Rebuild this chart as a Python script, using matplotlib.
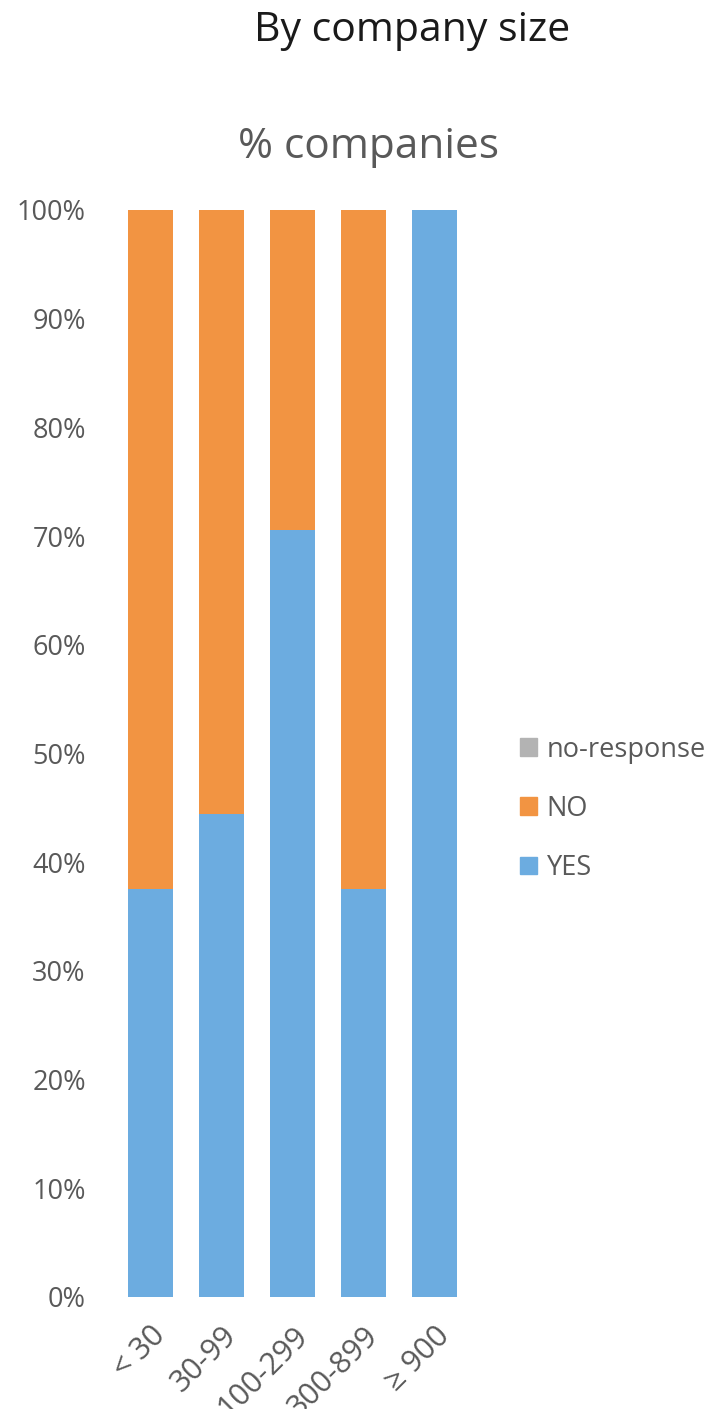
import matplotlib
matplotlib.use("Agg")
import matplotlib.pyplot as plt
from matplotlib.ticker import PercentFormatter
from matplotlib.patches import Patch

plt.rcParams['font.family'] = ['Open Sans', 'DejaVu Sans']

categories = ["< 30", "30-99", "100-299", "300-899", "≥ 900"]
yes_pct = [37.5, 44.4, 70.6, 37.5, 100.0]
no_pct = [62.5, 55.6, 29.4, 62.5, 0.0]
no_response_pct = [0.0, 0.0, 0.0, 0.0, 0.0]
y_ticks = [0, 10, 20, 30, 40, 50, 60, 70, 80, 90, 100]

c_yes = "#6cace0"
c_no = "#f29442"
c_nr = "#b3b3b3"
text_gray = "#595959"

fig = plt.figure(figsize=(7.23, 14.09), dpi=100)
ax = fig.add_axes([0.159, 0.0795, 0.491, 0.7715])

x = list(range(len(categories)))
w = 0.64
ax.bar(x, yes_pct, width=w, color=c_yes, edgecolor="none")
ax.bar(x, no_pct, width=w, bottom=yes_pct, color=c_no, edgecolor="none")
bottom_nr = [a + b for a, b in zip(yes_pct, no_pct)]
ax.bar(x, no_response_pct, width=w, bottom=bottom_nr, color=c_nr, edgecolor="none")

ax.set_xlim(-0.5, len(categories) - 0.5)
ax.set_ylim(0, 100)
ax.set_yticks(y_ticks)
ax.yaxis.set_major_formatter(PercentFormatter(decimals=0))
ax.tick_params(axis="y", length=0, pad=21, labelsize=19.5, labelcolor=text_gray)
ax.tick_params(axis="x", length=0, pad=17, labelsize=22, labelcolor=text_gray)
ax.set_xticks(x)
ax.set_xticklabels(categories, rotation=45, ha="right", rotation_mode="anchor")
for lbl in ax.get_xticklabels():
    lbl.set_x(lbl.get_position()[0])
for s in ax.spines.values():
    s.set_visible(False)

handles = [Patch(color=c_nr, label="no-response"),
           Patch(color=c_no, label="NO"),
           Patch(color=c_yes, label="YES")]
leg = fig.legend(handles=handles, loc="center left", bbox_to_anchor=(0.686, 0.426),
                 frameon=False, fontsize=19.5, handlelength=0.62, handleheight=0.62,
                 handletextpad=0.35, labelspacing=1.15, labelcolor=text_gray)

fig.text(0.57, 0.978, "By company size", ha="center", va="center",
         fontsize=29.5, color="#1a1a1a")
fig.text(0.509, 0.896, "% companies", ha="center", va="center",
         fontsize=30.5, color=text_gray)

fig.savefig("out.png", dpi=100)
